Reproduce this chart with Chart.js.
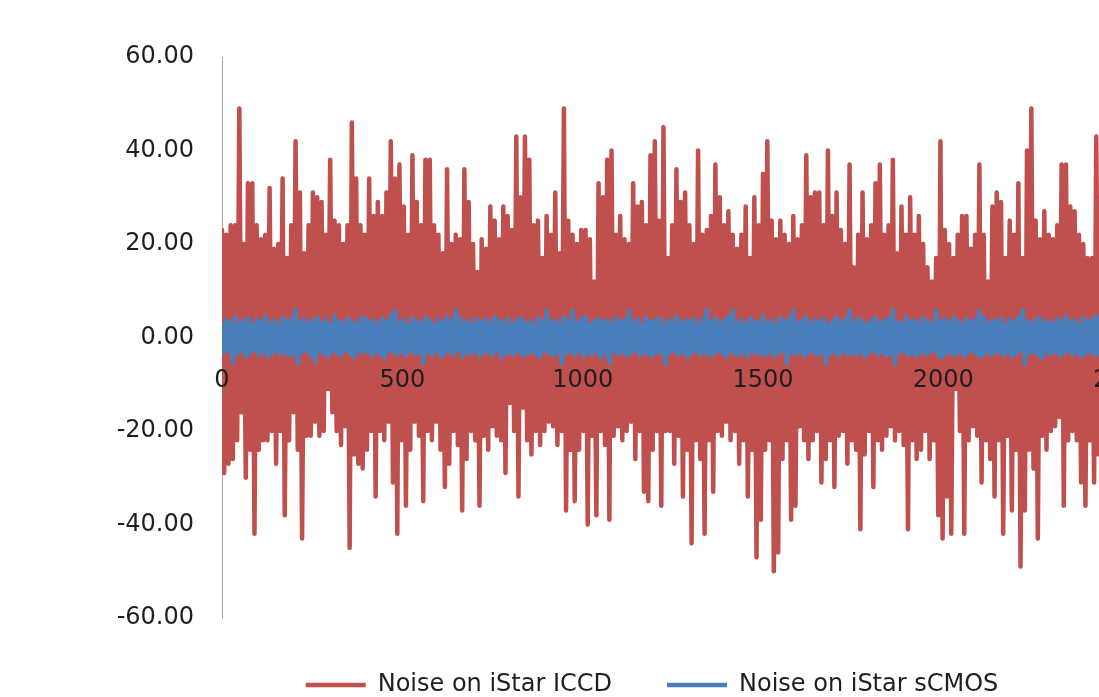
<!DOCTYPE html>
<html>
<head>
<meta charset="utf-8">
<script src="https://cdn.jsdelivr.net/npm/chart.js@4/dist/chart.umd.min.js"></script>
<style>
  html, body { margin: 0; padding: 0; background: #fff; overflow: hidden; }
  #wrap { width: 1312px; height: 707px; position: relative; }
</style>
</head>
<body>
<div id="wrap"><canvas id="noiseChart"></canvas></div>
<script>
// samples between two consecutive readings
const sampleStep = 6;

// Noise on iStar ICCD: upper excursions, then lower excursions (read left to right)
const iccdPeaks = [
  23,22,24,24,49,20,33,33,24,21,
  22,32,19,20,34,17,24,42,31,18,
  24,31,30,29,22,38,25,24,20,24,
  46,34,24,22,34,26,29,26,31,42,
  34,37,28,22,39,29,24,38,38,24,
  22,18,36,20,22,21,36,29,20,14,
  21,19,28,25,21,28,26,23,43,30,
  43,38,24,25,17,26,22,31,18,49,
  25,22,20,23,23,21,12,33,30,38,
  40,22,26,21,20,33,28,29,24,39,
  42,25,45,17,24,36,29,31,24,20,
  40,22,23,26,37,30,24,27,22,19,
  22,28,17,30,24,35,42,25,21,25,
  22,20,26,21,24,39,30,31,31,24,
  40,26,31,23,20,37,15,22,31,21,
  24,33,37,22,24,38,18,28,22,30,
  22,26,20,15,12,17,42,23,20,17,
  22,26,26,19,22,37,22,12,28,31,
  29,17,25,22,33,17,40,49,25,21,
  27,22,21,24,37,37,28,27,22,20,
  17,17,43,30
];
const iccdTroughs = [
  -29,-27,-26,-22,-16,-30,-24,-42,-24,-22,
  -22,-20,-27,-20,-38,-22,-16,-24,-43,-21,
  -21,-18,-21,-20,-11,-16,-20,-23,-19,-45,
  -25,-27,-28,-24,-20,-34,-20,-22,-18,-31,
  -42,-22,-36,-24,-18,-21,-35,-20,-22,-18,
  -24,-32,-27,-20,-23,-37,-26,-20,-22,-36,
  -21,-24,-19,-21,-22,-29,-14,-20,-34,-15,
  -22,-25,-20,-23,-20,-18,-19,-23,-20,-37,
  -24,-35,-24,-20,-40,-21,-38,-20,-23,-39,
  -21,-19,-22,-20,-18,-26,-20,-33,-35,-24,
  -20,-36,-20,-20,-27,-21,-34,-24,-44,-22,
  -26,-42,-22,-33,-20,-21,-18,-22,-20,-27,
  -22,-34,-24,-47,-39,-24,-22,-50,-46,-26,
  -22,-39,-36,-19,-22,-26,-22,-20,-31,-26,
  -22,-32,-21,-20,-27,-22,-24,-41,-25,-20,
  -32,-22,-24,-21,-19,-22,-20,-23,-41,-22,
  -26,-24,-20,-26,-22,-38,-43,-34,-42,-11,
  -20,-42,-22,-19,-21,-31,-22,-26,-34,-22,
  -42,-21,-37,-24,-49,-37,-24,-28,-43,-21,
  -24,-20,-19,-17,-36,-22,-20,-22,-31,-36,
  -22,-31,-25,-22
];

// Noise on iStar sCMOS
const scmosPeaks = [
  2.6,3.8,3.1,4.4,2.9,3.6,4.1,2.7,3.9,3.3,4.5,3.0,
  3.7,2.8,4.2,3.4,3.9,5.9,3.2,4.0,2.9,3.6,4.3,3.1,
  3.8,2.7,4.6,3.3,3.0,4.1,3.5,2.8,3.9,4.4,3.2,3.7,
  2.9,4.0,3.4,4.7,5.6,3.1,3.8,2.6,4.2,3.5,3.0,4.3,
  3.6,2.8,3.9,3.2,4.5,3.4,5.7,4.1,3.0,3.7,2.7,4.0,
  3.3,3.9,2.9,4.4,3.6,3.1,4.0,2.8,3.7,4.2,3.0,3.5,
  2.7,4.1,3.4,5.8,3.2,3.8,2.9,4.3,3.6,5.7,3.1,3.9,
  4.4,2.8,3.5,4.0,3.2,3.7,2.9,4.2,3.4,3.8,5.6,3.1,
  3.9,2.7,4.3,3.3,3.6,4.1,2.9,3.8,3.2,4.5,3.0,3.7,
  3.4,4.0,2.8,3.9,5.9,3.3,4.2,3.1,3.6,4.4,5.7,3.0,
  3.8,2.9,4.1,3.5,3.2,4.6,3.0,3.7,2.8,4.2,3.4,3.9,
  5.8,3.1,3.6,4.3,2.9,3.8,3.3,4.0,2.7,3.5,4.4,3.2,
  3.9,5.7,3.0,4.1,3.4,2.8,3.7,4.2,3.1,3.6,4.0,5.9,
  3.3,2.9,4.4,3.5,3.8,3.0,4.1,3.6,2.8,5.8,3.4,3.9,
  3.1,4.3,3.6,2.9,4.0,3.3,3.8,5.6,4.2,3.0,3.7,3.4,
  4.1,2.8,3.9,3.2,4.4,5.9,3.5,3.0,3.8,4.2,3.1,3.6,
  2.9,4.0,3.4,4.5,3.2,3.7,2.8,4.1,3.5,3.9,4.6,3.3
];
const scmosTroughs = [
  -3.2,-2.8,-5.4,-3.6,-2.9,-4.1,-3.3,-2.7,-3.8,-3.0,-4.2,-3.4,
  -2.9,-3.7,-3.1,-4.0,-3.5,-5.6,-3.2,-2.8,-3.9,-5.3,-3.0,-3.6,
  -4.1,-2.9,-3.4,-3.8,-2.7,-3.5,-4.3,-3.0,-3.3,-2.8,-3.9,-3.2,
  -3.6,-4.4,-2.9,-3.1,-3.7,-3.0,-4.0,-2.8,-3.5,-3.3,-5.5,-3.1,
  -3.8,-2.9,-4.2,-3.4,-3.0,-3.7,-2.7,-4.1,-3.2,-3.6,-2.9,-4.0,
  -3.3,-3.0,-3.9,-2.8,-4.3,-3.5,-3.1,-3.7,-2.9,-4.0,-3.4,-3.0,
  -3.6,-4.2,-2.8,-3.3,-3.9,-3.1,-5.6,-3.4,-3.0,-3.8,-2.9,-4.1,
  -3.2,-3.7,-3.0,-4.4,-3.3,-5.5,-2.9,-3.6,-3.1,-4.0,-3.4,-2.8,
  -3.9,-3.2,-3.6,-4.1,-3.0,-3.5,-5.7,-3.3,-2.9,-3.8,-3.1,-4.2,
  -3.4,-2.8,-3.7,-3.1,-4.0,-3.6,-2.9,-3.3,-4.3,-3.0,-3.5,-3.8,
  -3.1,-4.2,-2.9,-3.6,-3.3,-3.9,-3.0,-4.1,-3.4,-2.8,-5.6,-3.2,
  -3.7,-3.0,-4.0,-3.4,-2.9,-3.8,-3.2,-5.5,-3.5,-3.1,-4.1,-2.9,
  -3.6,-3.3,-3.9,-3.0,-4.2,-3.4,-2.8,-3.7,-3.1,-4.0,-3.5,-5.6,
  -3.2,-2.9,-3.8,-3.4,-4.1,-3.0,-3.6,-3.3,-2.8,-3.9,-4.3,-3.1,
  -3.5,-3.8,-3.0,-4.0,-3.3,-2.9,-3.7,-4.2,-3.1,-3.6,-3.4,-3.0,
  -3.9,-3.2,-4.1,-3.5,-2.8,-5.7,-3.3,-3.0,-3.8,-4.4,-3.1,-3.6,
  -3.0,-4.0,-3.4,-2.9,-3.7,-3.2,-4.2,-3.5,-3.0,-3.8,-3.3,-3.6
];

const xMax = 3000, xTickStep = 500;
const yMin = -60, yMax = 60, yTickStep = 20;

// one reading up, one reading down, in sample order
function toSeries(peaks, troughs) {
  const pts = [];
  for (let i = 0; i < peaks.length; i++) {
    pts.push({ x: 2 * i * sampleStep, y: peaks[i] });
    pts.push({ x: (2 * i + 1) * sampleStep, y: troughs[i] });
  }
  return pts;
}

Chart.defaults.font.family = "'DejaVu Sans', sans-serif";
Chart.defaults.font.size = 24;
Chart.defaults.color = '#1f1f1f';

new Chart(document.getElementById('noiseChart'), {
  type: 'line',
  data: {
    datasets: [{
      label: 'Noise on iStar ICCD',
      data: toSeries(iccdPeaks, iccdTroughs),
      borderColor: '#c0504d',
      backgroundColor: '#c0504d',
      borderWidth: 4.5,
      borderJoinStyle: 'round',
      borderCapStyle: 'round',
      pointRadius: 0,
      order: 2
    }, {
      label: 'Noise on iStar sCMOS',
      data: toSeries(scmosPeaks, scmosTroughs),
      borderColor: '#4a7ebb',
      backgroundColor: '#4a7ebb',
      borderWidth: 4.5,
      borderJoinStyle: 'round',
      borderCapStyle: 'round',
      pointRadius: 0,
      order: 1
    }]
  },
  options: {
    responsive: true,
    maintainAspectRatio: false,
    animation: false,
    events: [],
    layout: { padding: { top: 57, right: 8, bottom: 0, left: 0 } },
    plugins: {
      tooltip: { enabled: false },
      legend: {
        position: 'bottom',
        labels: {
          usePointStyle: true,
          pointStyle: 'line',
          pointStyleWidth: 60,
          padding: 55,
          color: '#1f1f1f',
          sort: (a, b) => a.datasetIndex - b.datasetIndex
        }
      }
    },
    scales: {
      x: {
        type: 'linear',
        position: { y: 0 },
        min: 0, max: xMax,
        grid: { display: false, drawTicks: false },
        border: { display: false },
        // tick labels sit on top of the noise, as in the original
        ticks: { z: 1, stepSize: xTickStep, padding: 29, maxRotation: 0, callback: v => String(v) },
        afterFit: s => { s.paddingLeft = 0; s.paddingRight = 0; }
      },
      y: {
        min: yMin, max: yMax,
        grid: { display: false, drawTicks: false },
        border: { display: true, color: '#a6a6a6', width: 1 },
        ticks: { stepSize: yTickStep, padding: 28, callback: v => v.toFixed(2) },
        afterFit: s => { s.width = 222; }
      }
    }
  }
});
</script>
</body>
</html>
